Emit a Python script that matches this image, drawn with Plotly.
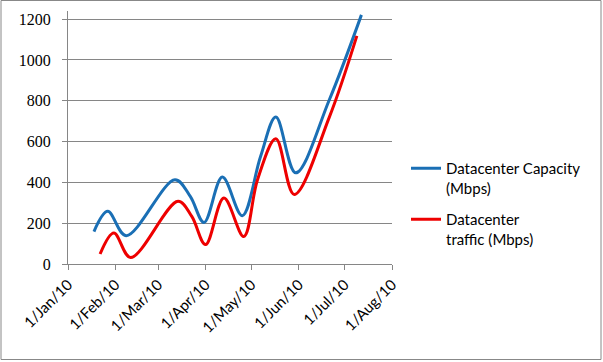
import plotly.graph_objects as go

# ---- data ----
cap_dates = ["2010-01-18", "2010-01-27", "2010-02-08", "2010-03-12", "2010-03-22",
             "2010-03-31", "2010-04-12", "2010-04-25", "2010-05-07", "2010-05-17",
             "2010-05-30", "2010-06-21", "2010-07-12"]
cap_values = [159, 258, 139, 413, 331, 204, 426, 237, 527, 720, 447, 805, 1221]

traf_dates = ["2010-01-22", "2010-01-31", "2010-02-11", "2010-03-14", "2010-03-23",
              "2010-04-01", "2010-04-13", "2010-04-26", "2010-05-05", "2010-05-17",
              "2010-05-29", "2010-06-21", "2010-07-09"]
traf_values = [49, 152, 32, 307, 233, 95, 323, 135, 413, 614, 341, 720, 1118]

tick_dates = ["2010-01-01", "2010-02-01", "2010-03-01", "2010-04-01",
              "2010-05-01", "2010-06-01", "2010-07-01", "2010-08-01"]
tick_labels = ["1/Jan/10", "1/Feb/10", "1/Mar/10", "1/Apr/10",
               "1/May/10", "1/Jun/10", "1/Jul/10", "1/Aug/10"]

cap_name = "Datacenter Capacity<br>(Mbps)"
traf_name = "Datacenter<br>traffic (Mbps)"

W, H = 603, 362
L, R, T, B = 68, 211, 11, 98
pw, ph = W - L - R, H - T - B

def px_x(p):
    return (p - L) / pw

def px_y(p):
    return (H - B - p) / ph

grid = "#868686"

fig = go.Figure()
fig.add_trace(go.Scatter(x=cap_dates, y=cap_values, mode="lines", name=cap_name,
                         legendgroup="a",
                         line=dict(color="#1a6fb5", width=3, shape="spline", smoothing=1.0)))
fig.add_trace(go.Scatter(x=traf_dates, y=traf_values, mode="lines", name=traf_name,
                         legendgroup="b",
                         line=dict(color="#ee0000", width=3, shape="spline", smoothing=1.0)))

fig.update_layout(
    width=W, height=H,
    margin=dict(l=L, r=R, t=T, b=B, pad=0),
    paper_bgcolor="white", plot_bgcolor="white",
    showlegend=True,
    legend=dict(x=px_x(406), y=px_y(152), xanchor="left", yanchor="top",
                font=dict(family="Lato", size=15, color="black"),
                valign="top", tracegroupgap=9, bgcolor="rgba(0,0,0,0)"),
    xaxis=dict(type="date", range=["2010-01-01", "2010-08-01"],
               tickmode="array", tickvals=tick_dates, ticktext=tick_labels,
               tickangle=-45, showgrid=False, zeroline=False,
               showline=True, linecolor=grid, linewidth=1,
               ticks="outside", ticklen=5, tickcolor=grid,
               tickfont=dict(family="Lato", size=15, color="black")),
    yaxis=dict(range=[0, 1240], tickmode="array",
               tickvals=[0, 200, 400, 600, 800, 1000, 1200],
               ticktext=["0", "200", "400", "600", "800", "1000", "1200"],
               showgrid=True, gridcolor=grid, gridwidth=1, zeroline=False,
               showline=True, linecolor=grid, linewidth=1,
               ticks="outside", ticklen=5, tickcolor=grid,
               ticklabelstandoff=8,
               tickfont=dict(family="Liberation Serif", size=16, color="black")),
    shapes=[dict(type="rect", xref="paper", yref="paper",
                 x0=px_x(1), x1=px_x(601), y0=px_y(359.5), y1=px_y(0.5),
                 line=dict(color="#888888", width=1), layer="below")],
)

fig.write_html("out.html",
               config={"displayModeBar": False},
               post_script="document.body.style.margin='0px';document.body.style.overflow='hidden';")
